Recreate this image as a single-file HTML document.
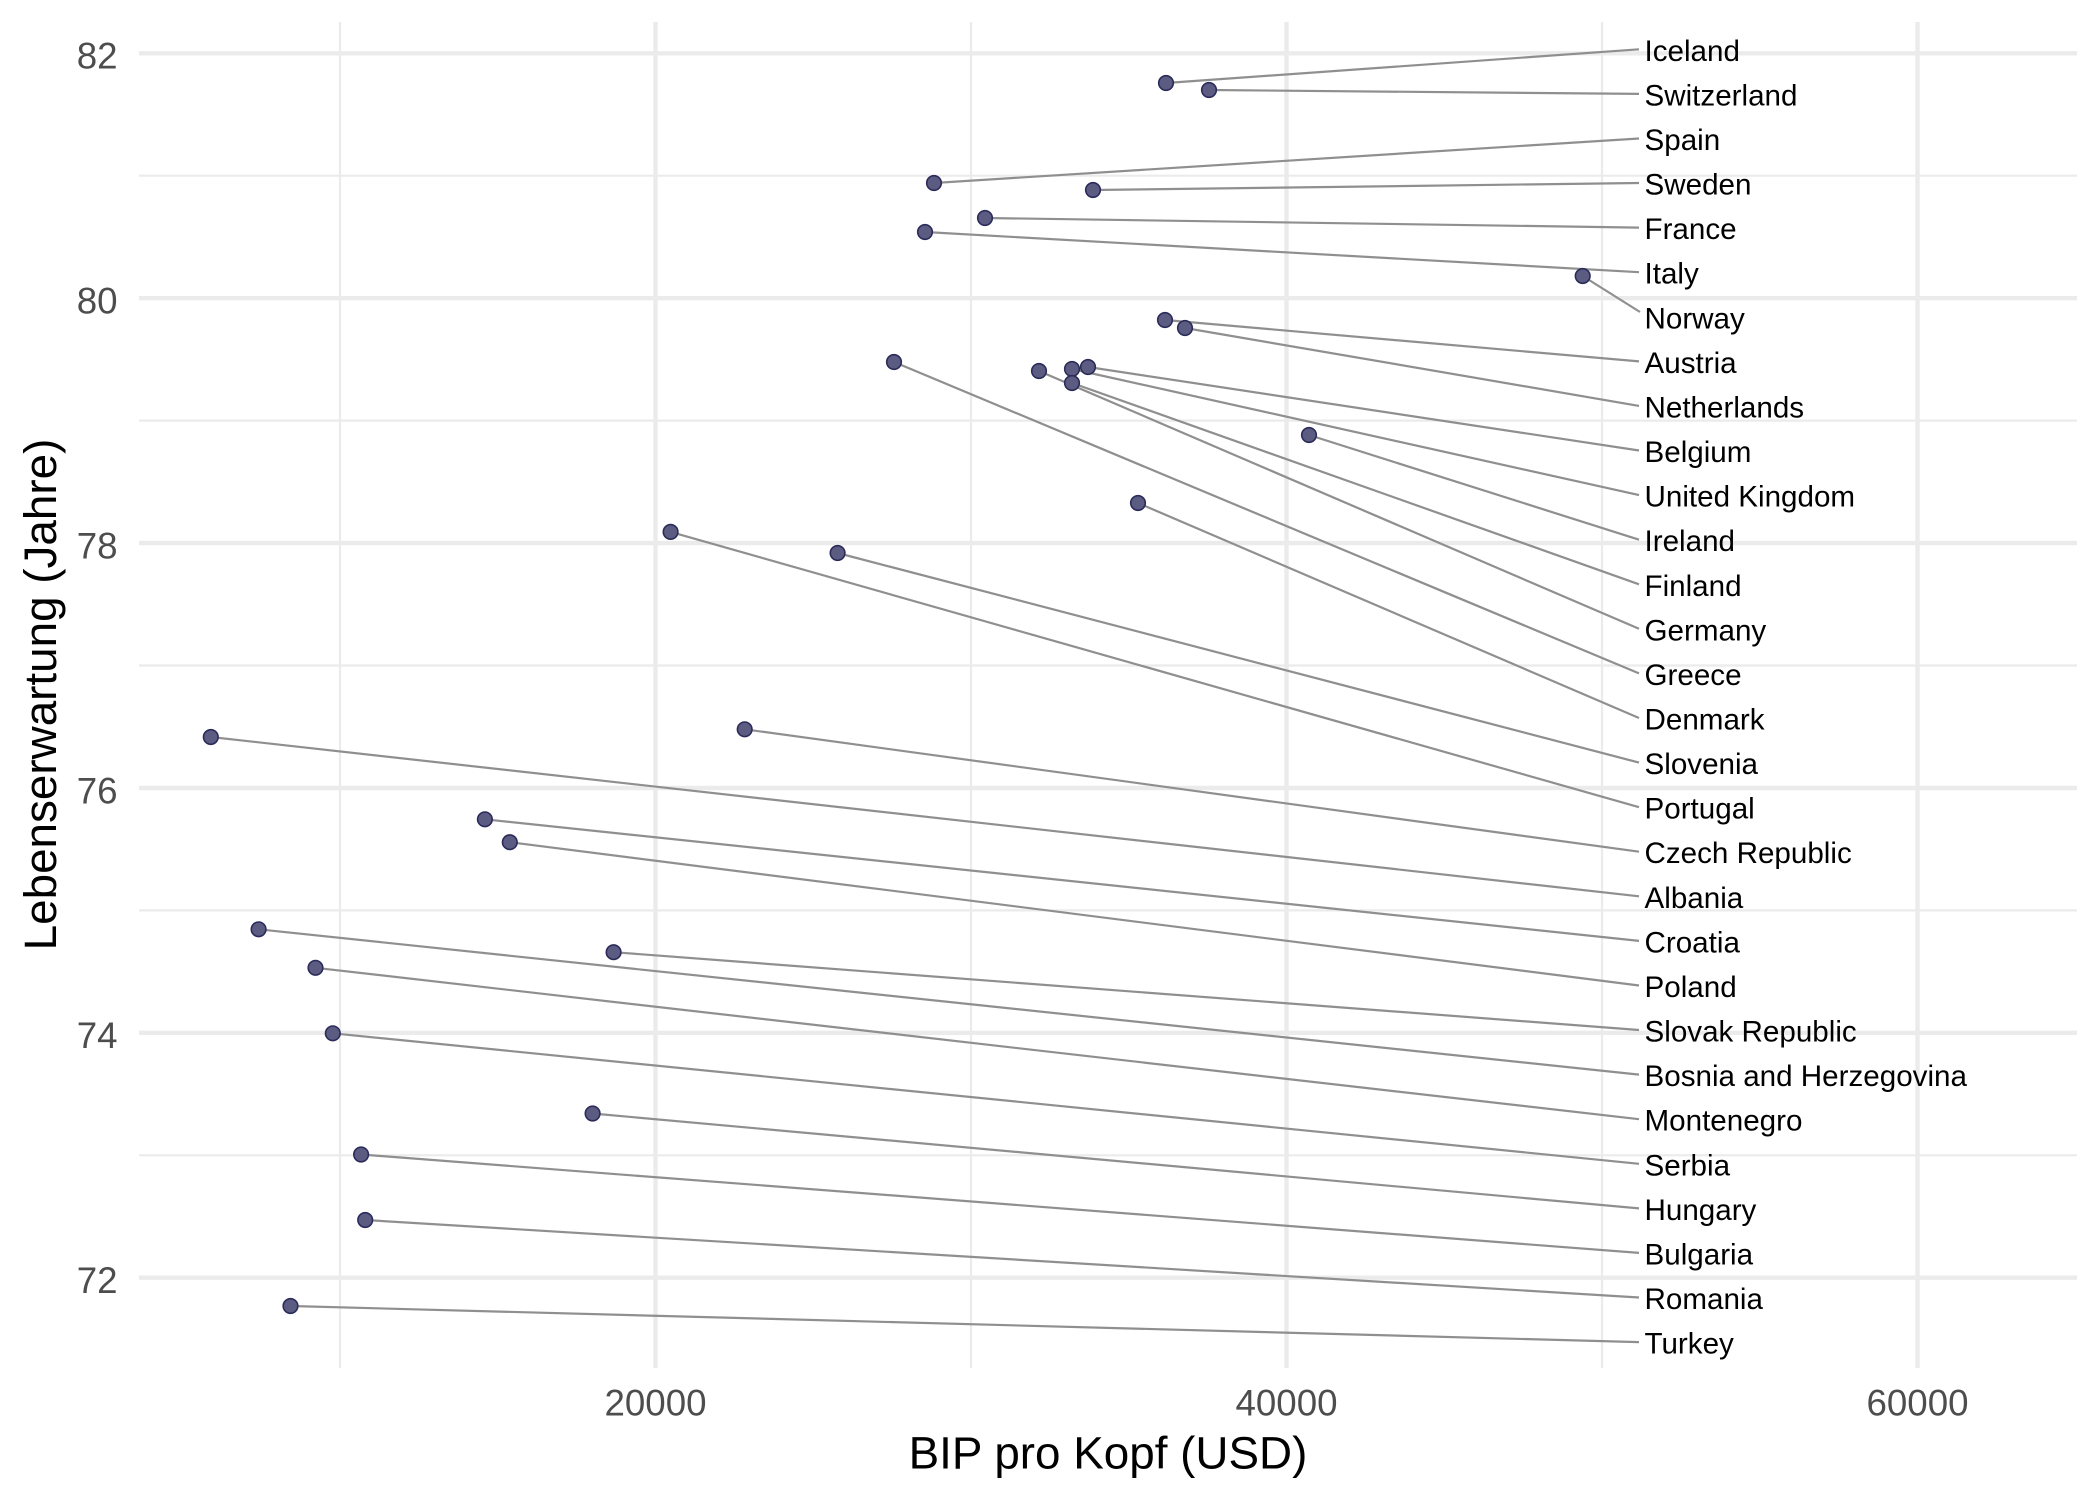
<!DOCTYPE html>
<html>
<head>
<meta charset="utf-8">
<style>
  html,body{margin:0;padding:0;background:#fff;}
  svg{display:block;}
  text{font-family:"Liberation Sans", Arial, sans-serif;}
</style>
</head>
<body>
<svg xmlns="http://www.w3.org/2000/svg" width="2100" height="1500" viewBox="0 0 2100 1500">
  <rect width="2100" height="1500" fill="#ffffff"/>
  <!-- minor gridlines -->
  <g stroke="#EBEBEB" stroke-width="2.2">
    <line x1="139" x2="2077" y1="175.7" y2="175.7"/>
    <line x1="139" x2="2077" y1="420.6" y2="420.6"/>
    <line x1="139" x2="2077" y1="665.5" y2="665.5"/>
    <line x1="139" x2="2077" y1="910.4" y2="910.4"/>
    <line x1="139" x2="2077" y1="1155.3" y2="1155.3"/>
    <line x1="340" x2="340" y1="22" y2="1368"/>
    <line x1="971" x2="971" y1="22" y2="1368"/>
    <line x1="1602" x2="1602" y1="22" y2="1368"/>
  </g>
  <!-- major gridlines -->
  <g stroke="#EBEBEB" stroke-width="4.4">
    <line x1="139" x2="2077" y1="53.3" y2="53.3"/>
    <line x1="139" x2="2077" y1="298.2" y2="298.2"/>
    <line x1="139" x2="2077" y1="543.1" y2="543.1"/>
    <line x1="139" x2="2077" y1="788" y2="788"/>
    <line x1="139" x2="2077" y1="1032.8" y2="1032.8"/>
    <line x1="139" x2="2077" y1="1277.7" y2="1277.7"/>
    <line x1="655.5" x2="655.5" y1="22" y2="1368"/>
    <line x1="1286.5" x2="1286.5" y1="22" y2="1368"/>
    <line x1="1917.5" x2="1917.5" y1="22" y2="1368"/>
  </g>

  <!-- segments -->
  <g stroke="#8f8f8f" stroke-width="2.2" fill="none">
    <line x1="1166" y1="83" x2="1639" y2="49.3"/>
    <line x1="1209" y1="90" x2="1639" y2="93.9"/>
    <line x1="934" y1="183" x2="1639" y2="138.5"/>
    <line x1="1093" y1="190" x2="1639" y2="183"/>
    <line x1="985" y1="218" x2="1639" y2="227.6"/>
    <line x1="925" y1="232" x2="1639" y2="272.2"/>
    <line x1="1582.7" y1="276" x2="1640" y2="312"/>
    <line x1="1165" y1="320" x2="1639" y2="361.4"/>
    <line x1="1185" y1="328" x2="1639" y2="405.9"/>
    <line x1="1088" y1="367" x2="1639" y2="450.5"/>
    <line x1="1072" y1="369" x2="1639" y2="495.1"/>
    <line x1="1309" y1="435" x2="1639" y2="539.7"/>
    <line x1="1072" y1="383" x2="1639" y2="584.3"/>
    <line x1="1039" y1="371" x2="1639" y2="628.8"/>
    <line x1="894" y1="362" x2="1639" y2="673.4"/>
    <line x1="1138" y1="503" x2="1639" y2="718"/>
    <line x1="837.6" y1="553" x2="1639" y2="762.6"/>
    <line x1="670.6" y1="531.9" x2="1639" y2="807.2"/>
    <line x1="744.7" y1="729.3" x2="1639" y2="851.7"/>
    <line x1="210.8" y1="737" x2="1639" y2="896.3"/>
    <line x1="484.9" y1="819.3" x2="1639" y2="940.9"/>
    <line x1="509.8" y1="842.2" x2="1639" y2="985.5"/>
    <line x1="613.6" y1="952.2" x2="1639" y2="1030"/>
    <line x1="258.6" y1="929.3" x2="1639" y2="1074.6"/>
    <line x1="315.5" y1="967.8" x2="1639" y2="1119.2"/>
    <line x1="332.8" y1="1033.3" x2="1639" y2="1163.8"/>
    <line x1="592.6" y1="1113.5" x2="1639" y2="1208.4"/>
    <line x1="361.1" y1="1154.5" x2="1639" y2="1252.9"/>
    <line x1="365.2" y1="1220" x2="1639" y2="1297.5"/>
    <line x1="290.5" y1="1306" x2="1639" y2="1342.1"/>
  </g>

  <!-- points -->
  <g fill="#5c5c82" stroke="#2b2b5a" stroke-width="1.6">
    <circle cx="1166" cy="83" r="7.3"/>
    <circle cx="1209" cy="90" r="7.3"/>
    <circle cx="934" cy="183" r="7.3"/>
    <circle cx="1093" cy="190" r="7.3"/>
    <circle cx="985" cy="218" r="7.3"/>
    <circle cx="925" cy="232" r="7.3"/>
    <circle cx="1582.7" cy="276" r="7.3"/>
    <circle cx="1165" cy="320" r="7.3"/>
    <circle cx="1185" cy="328" r="7.3"/>
    <circle cx="1088" cy="367" r="7.3"/>
    <circle cx="1072" cy="369" r="7.3"/>
    <circle cx="1309" cy="435" r="7.3"/>
    <circle cx="1072" cy="383" r="7.3"/>
    <circle cx="1039" cy="371" r="7.3"/>
    <circle cx="894" cy="362" r="7.3"/>
    <circle cx="1138" cy="503" r="7.3"/>
    <circle cx="837.6" cy="553" r="7.3"/>
    <circle cx="670.6" cy="531.9" r="7.3"/>
    <circle cx="744.7" cy="729.3" r="7.3"/>
    <circle cx="210.8" cy="737" r="7.3"/>
    <circle cx="484.9" cy="819.3" r="7.3"/>
    <circle cx="509.8" cy="842.2" r="7.3"/>
    <circle cx="613.6" cy="952.2" r="7.3"/>
    <circle cx="258.6" cy="929.3" r="7.3"/>
    <circle cx="315.5" cy="967.8" r="7.3"/>
    <circle cx="332.8" cy="1033.3" r="7.3"/>
    <circle cx="592.6" cy="1113.5" r="7.3"/>
    <circle cx="361.1" cy="1154.5" r="7.3"/>
    <circle cx="365.2" cy="1220" r="7.3"/>
    <circle cx="290.5" cy="1306" r="7.3"/>
  </g>

  <!-- labels -->
  <g font-size="29.6" fill="#000000">
    <text x="1644.5" y="60.8">Iceland</text>
    <text x="1644.5" y="105.4">Switzerland</text>
    <text x="1644.5" y="150">Spain</text>
    <text x="1644.5" y="194.5">Sweden</text>
    <text x="1644.5" y="239.1">France</text>
    <text x="1644.5" y="283.7">Italy</text>
    <text x="1644.5" y="328.3">Norway</text>
    <text x="1644.5" y="372.9">Austria</text>
    <text x="1644.5" y="417.4">Netherlands</text>
    <text x="1644.5" y="462">Belgium</text>
    <text x="1644.5" y="506.6">United Kingdom</text>
    <text x="1644.5" y="551.2">Ireland</text>
    <text x="1644.5" y="595.8">Finland</text>
    <text x="1644.5" y="640.3">Germany</text>
    <text x="1644.5" y="684.9">Greece</text>
    <text x="1644.5" y="729.5">Denmark</text>
    <text x="1644.5" y="774.1">Slovenia</text>
    <text x="1644.5" y="818.7">Portugal</text>
    <text x="1644.5" y="863.2">Czech Republic</text>
    <text x="1644.5" y="907.8">Albania</text>
    <text x="1644.5" y="952.4">Croatia</text>
    <text x="1644.5" y="997">Poland</text>
    <text x="1644.5" y="1041.5">Slovak Republic</text>
    <text x="1644.5" y="1086.1">Bosnia and Herzegovina</text>
    <text x="1644.5" y="1130.7">Montenegro</text>
    <text x="1644.5" y="1175.3">Serbia</text>
    <text x="1644.5" y="1219.9">Hungary</text>
    <text x="1644.5" y="1264.4">Bulgaria</text>
    <text x="1644.5" y="1309">Romania</text>
    <text x="1644.5" y="1353.6">Turkey</text>
  </g>

  <!-- y tick labels -->
  <g font-size="36.7" fill="#4D4D4D" text-anchor="end">
    <text x="117.5" y="68.6">82</text>
    <text x="117.5" y="313.5">80</text>
    <text x="117.5" y="558.4">78</text>
    <text x="117.5" y="803.3">76</text>
    <text x="117.5" y="1048.1">74</text>
    <text x="117.5" y="1293">72</text>
  </g>
  <!-- x tick labels -->
  <g font-size="36.7" fill="#4D4D4D" text-anchor="middle">
    <text x="655.5" y="1415.5">20000</text>
    <text x="1286.5" y="1415.5">40000</text>
    <text x="1917.5" y="1415.5">60000</text>
  </g>

  <!-- axis titles -->
  <text x="1108" y="1468.5" font-size="45.8" fill="#000" text-anchor="middle">BIP pro Kopf (USD)</text>
  <text x="0" y="0" font-size="45.8" fill="#000" text-anchor="middle" transform="translate(56,694.5) rotate(-90)">Lebenserwartung (Jahre)</text>
</svg>
</body>
</html>
